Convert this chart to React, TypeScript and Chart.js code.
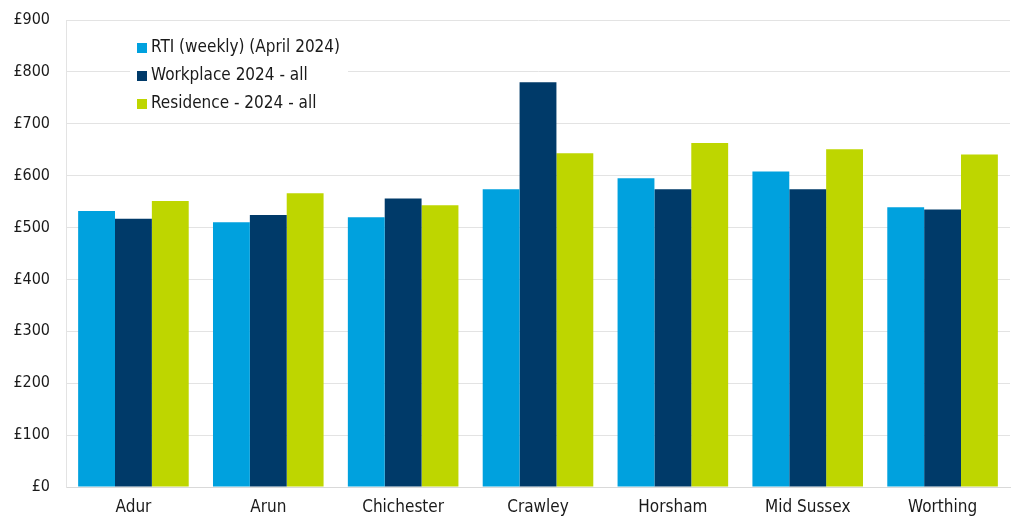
import React, { useEffect, useRef } from "react";
import { Chart, registerables } from "chart.js";

Chart.register(...registerables);

const categories = ["Adur", "Arun", "Chichester", "Crawley", "Horsham", "Mid Sussex", "Worthing"];
const rtiWeekly = [532, 510, 520, 574, 595, 608, 539];
const workplace2024 = [517, 524, 556, 780, 574, 574, 535];
const residence2024 = [551, 566, 543, 643, 663, 651, 641];
const seriesLabels = ["RTI (weekly) (April 2024)", "Workplace 2024 - all", "Residence - 2024 - all"];
const seriesColors = ["#00A1DE", "#003A69", "#BED600"];

const FONT = "'DejaVu Sans Condensed', 'DejaVu Sans', sans-serif";

const insideLegend = {
  id: "insideLegend",
  afterDraw(chart: any) {
    const ctx = chart.ctx;
    const area = chart.chartArea;
    const x0 = area.left + 64;
    const y0 = area.top + 10;
    ctx.save();
    ctx.fillStyle = "#ffffff";
    ctx.fillRect(x0, y0, 218, 92);
    ctx.font = "17px " + FONT;
    ctx.textBaseline = "middle";
    chart.data.datasets.forEach((ds: any, i: number) => {
      const cy = y0 + 18 + i * 28;
      ctx.fillStyle = ds.backgroundColor;
      ctx.fillRect(x0 + 7, cy - 5, 10, 10);
      ctx.fillStyle = "#1a1a1a";
      ctx.textAlign = "left";
      ctx.fillText(ds.label, x0 + 21, cy);
    });
    ctx.restore();
  },
};

export default function App() {
  const canvasRef = useRef<HTMLCanvasElement>(null);

  useEffect(() => {
    document.body.style.margin = "0";
    const values = [rtiWeekly, workplace2024, residence2024];
    const chart = new Chart(canvasRef.current!, {
      type: "bar",
      data: {
        labels: categories,
        datasets: values.map((v, i) => ({
          label: seriesLabels[i],
          data: v,
          backgroundColor: seriesColors[i],
          borderWidth: 0,
          barPercentage: 1,
          categoryPercentage: 0.82,
        })),
      },
      options: {
        animation: false,
        responsive: false,
        maintainAspectRatio: false,
        layout: { padding: { top: 20, right: 14, bottom: 0, left: 0 } },
        plugins: {
          legend: { display: false },
          tooltip: { enabled: false },
        },
        scales: {
          x: {
            grid: { display: false, drawTicks: false },
            border: { color: "#d9d9d9", width: 1 },
            ticks: {
              color: "#1a1a1a",
              font: { family: FONT, size: 17 },
              padding: 10,
            },
            afterFit: (s: any) => {
              s.height = 45;
              s.paddingLeft = 0;
              s.paddingRight = 0;
            },
          },
          y: {
            min: 0,
            max: 900,
            grid: { color: "#e3e3e3", drawTicks: false },
            border: { color: "#e3e3e3", width: 1 },
            ticks: {
              stepSize: 100,
              color: "#1a1a1a",
              font: { family: FONT, size: 16 },
              padding: 16,
              callback: (v: any) => "£" + v,
            },
            afterFit: (s: any) => {
              s.width = 66;
              s.paddingTop = 0;
              s.paddingBottom = 0;
            },
          },
        },
      },
      plugins: [insideLegend],
    });
    return () => chart.destroy();
  }, []);

  return (
    <div style={{ width: 1024, height: 532 }}>
      <canvas ref={canvasRef} width={1024} height={532} />
    </div>
  );
}
